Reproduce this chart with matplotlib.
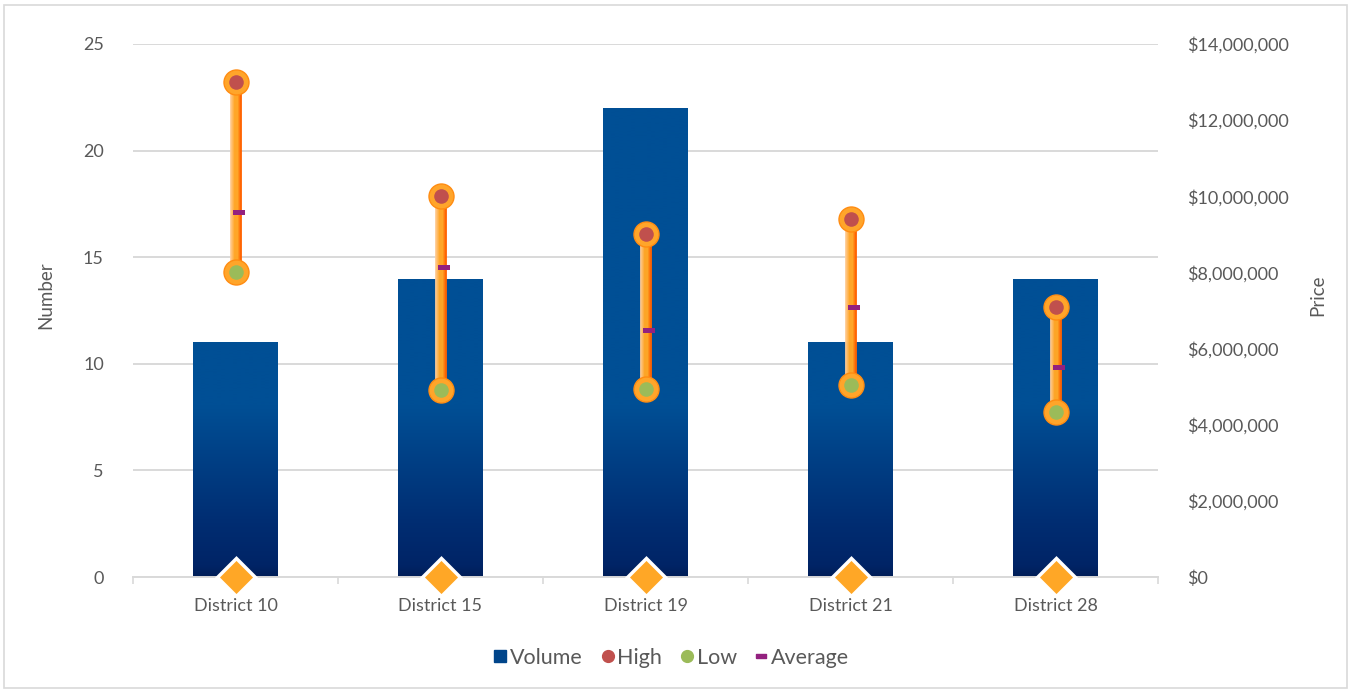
import numpy as np
import matplotlib
matplotlib.use("Agg")
import matplotlib.pyplot as plt
from matplotlib.colors import LinearSegmentedColormap, to_rgb
from matplotlib.lines import Line2D
from matplotlib.patches import Rectangle
import matplotlib.transforms as mtransforms
from matplotlib.ticker import FuncFormatter, MultipleLocator

categories = ["District 10", "District 15", "District 19", "District 21", "District 28"]
volume = [11, 14, 22, 11, 14]
high = [13000000, 10000000, 9000000, 9400000, 7100000]
low = [8000000, 4900000, 4950000, 5050000, 4330000]
average = [9600000, 8150000, 6500000, 7100000, 5520000]
base = [0, 0, 0, 0, 0]

plt.rcParams['font.family'] = ['Lato', 'DejaVu Sans']
TXT = '#595959'
GRID = '#D9D9D9'

fig = plt.figure(figsize=(13.52, 6.92), dpi=100)
fig.patches.append(Rectangle((4/1352, 4/692), 1343/1352, 683/692, transform=fig.transFigure,
                             fill=False, edgecolor='#D9D9D9', linewidth=1.2))

L, R, T, B = 133, 1158, 44, 577
ax1 = fig.add_axes([L/1352, 1-B/692, (R-L)/1352, (B-T)/692])
ax2 = ax1.twinx()

x = np.arange(len(categories))
ax1.set_xlim(-0.5, len(categories)-0.5)
ax1.set_ylim(0, 25)
ax2.set_ylim(0, 14000000)

# gridlines
ax1.yaxis.set_major_locator(MultipleLocator(5))
ax1.grid(axis='y', color=GRID, linewidth=1.4)
ax1.set_axisbelow(True)

# bars with vertical gradient
bars = ax1.bar(x, volume, width=0.41, color='#004F95', zorder=2)
cmap = LinearSegmentedColormap.from_list('vol', [(0, '#001E58'), (0.02, '#002466'), (0.1, '#002D72'),
                                                 (0.32, '#004F95'), (1, '#004F95')])
grad = np.linspace(0, 1, 256).reshape(-1, 1)
for b in bars:
    im = ax1.imshow(grad, cmap=cmap, origin='lower', extent=[-0.5, len(categories)-0.5, 0, 25],
                    aspect='auto', zorder=2.1, interpolation='bilinear')
    im.set_clip_path(b)
ax1.set_xlim(-0.5, len(categories)-0.5)
ax1.set_ylim(0, 25)

# whisker lines with horizontal gradient
c_left = np.array(to_rgb('#FFCB94'))
c_mid = np.array(to_rgb('#FFA626'))
c_right = np.array(to_rgb('#FF6200'))
offsets = np.arange(-5, 5.5, 1.0)
for o in offsets:
    t = (o + 5) / 10
    if t < 0.4:
        col = c_left + (c_mid - c_left) * (t / 0.4)
    elif t < 0.7:
        col = c_mid
    else:
        col = c_mid + (c_right - c_mid) * ((t - 0.7) / 0.3)
    col = tuple(np.clip(col, 0, 1))
    tr = ax2.transData + mtransforms.Affine2D().translate(o, 0)
    for i in range(len(categories)):
        ax2.plot([x[i], x[i]], [low[i], high[i]], color=col, linewidth=1.3,
                 transform=tr, solid_capstyle='butt', zorder=3)

# outer rings
for series in (high, low):
    ax2.plot(x, series, linestyle='none', marker='o', markersize=18, markerfacecolor='#FFA52A',
             markeredgecolor='#FF8C12', markeredgewidth=1, zorder=4)
ax2.plot(x, high, linestyle='none', marker='o', markersize=10.5, markerfacecolor='#C0504D',
         markeredgewidth=0, zorder=5)
ax2.plot(x, low, linestyle='none', marker='o', markersize=10.5, markerfacecolor='#9BBB59',
         markeredgewidth=0, zorder=5)

# average dash
rect_marker = [(-1, -0.45), (1, -0.45), (1, 0.45), (-1, 0.45), (-1, -0.45)]
tr_avg = ax2.transData + mtransforms.Affine2D().translate(3, 0)
ax2.plot(x, average, linestyle='none', marker=rect_marker, markersize=8, color='#93217F',
         markeredgewidth=0, transform=tr_avg, zorder=6)

# diamonds at base
ax2.plot(x, base, linestyle='none', marker='D', markersize=19, markerfacecolor='#FFA726',
         markeredgecolor='white', markeredgewidth=2.5, zorder=7, clip_on=False)

# axes styling
for sp in ['top', 'left', 'right']:
    ax1.spines[sp].set_visible(False)
    ax2.spines[sp].set_visible(False)
ax2.spines['bottom'].set_visible(False)
ax1.spines['bottom'].set_color(GRID)
ax1.spines['bottom'].set_linewidth(1.4)

ax1.set_xticks(x)
ax1.set_xticklabels(categories)
ax1.set_xticks(np.arange(-0.5, len(categories), 1.0), minor=True)
ax1.tick_params(axis='x', which='major', length=0, pad=15, labelsize=13, labelcolor=TXT)
ax1.tick_params(axis='x', which='minor', length=5, color=GRID, width=1.2)
ax1.tick_params(axis='y', length=0, pad=21, labelsize=13, labelcolor=TXT)

ax2.yaxis.set_major_locator(MultipleLocator(2000000))
ax2.yaxis.set_major_formatter(FuncFormatter(lambda v, p: "${:,.0f}".format(v)))
ax2.tick_params(axis='y', length=0, pad=21, labelsize=13, labelcolor=TXT)

ax1.set_ylabel("Number", fontsize=13.5, color=TXT, va='center', ha='center')
ax2.set_ylabel("Price", fontsize=13.5, color=TXT, va='center', ha='center', rotation=90)
ax1.yaxis.set_label_coords((46-L)/(R-L), (B-295)/(B-T))
ax2.yaxis.set_label_coords((1318-L)/(R-L), (B-295)/(B-T))

# legend
handles = [
    Line2D([], [], linestyle='none', marker='s', markersize=8, color='#00458A'),
    Line2D([], [], linestyle='none', marker='o', markersize=8.5, color='#C0504D'),
    Line2D([], [], linestyle='none', marker='o', markersize=8.5, color='#9BBB59'),
    Line2D([], [], linestyle='none', marker=rect_marker, markersize=7, color='#93217F'),
]
leg = fig.legend(handles, ["Volume", "High", "Low", "Average"], loc='center',
                 bbox_to_anchor=(670/1352, 1-658/692), ncol=4, frameon=False,
                 prop={'family': 'Lato', 'size': 15.5}, labelcolor=TXT,
                 handletextpad=0.0, columnspacing=0.7, handlelength=0.9)

fig.savefig("out.png", dpi=100)
